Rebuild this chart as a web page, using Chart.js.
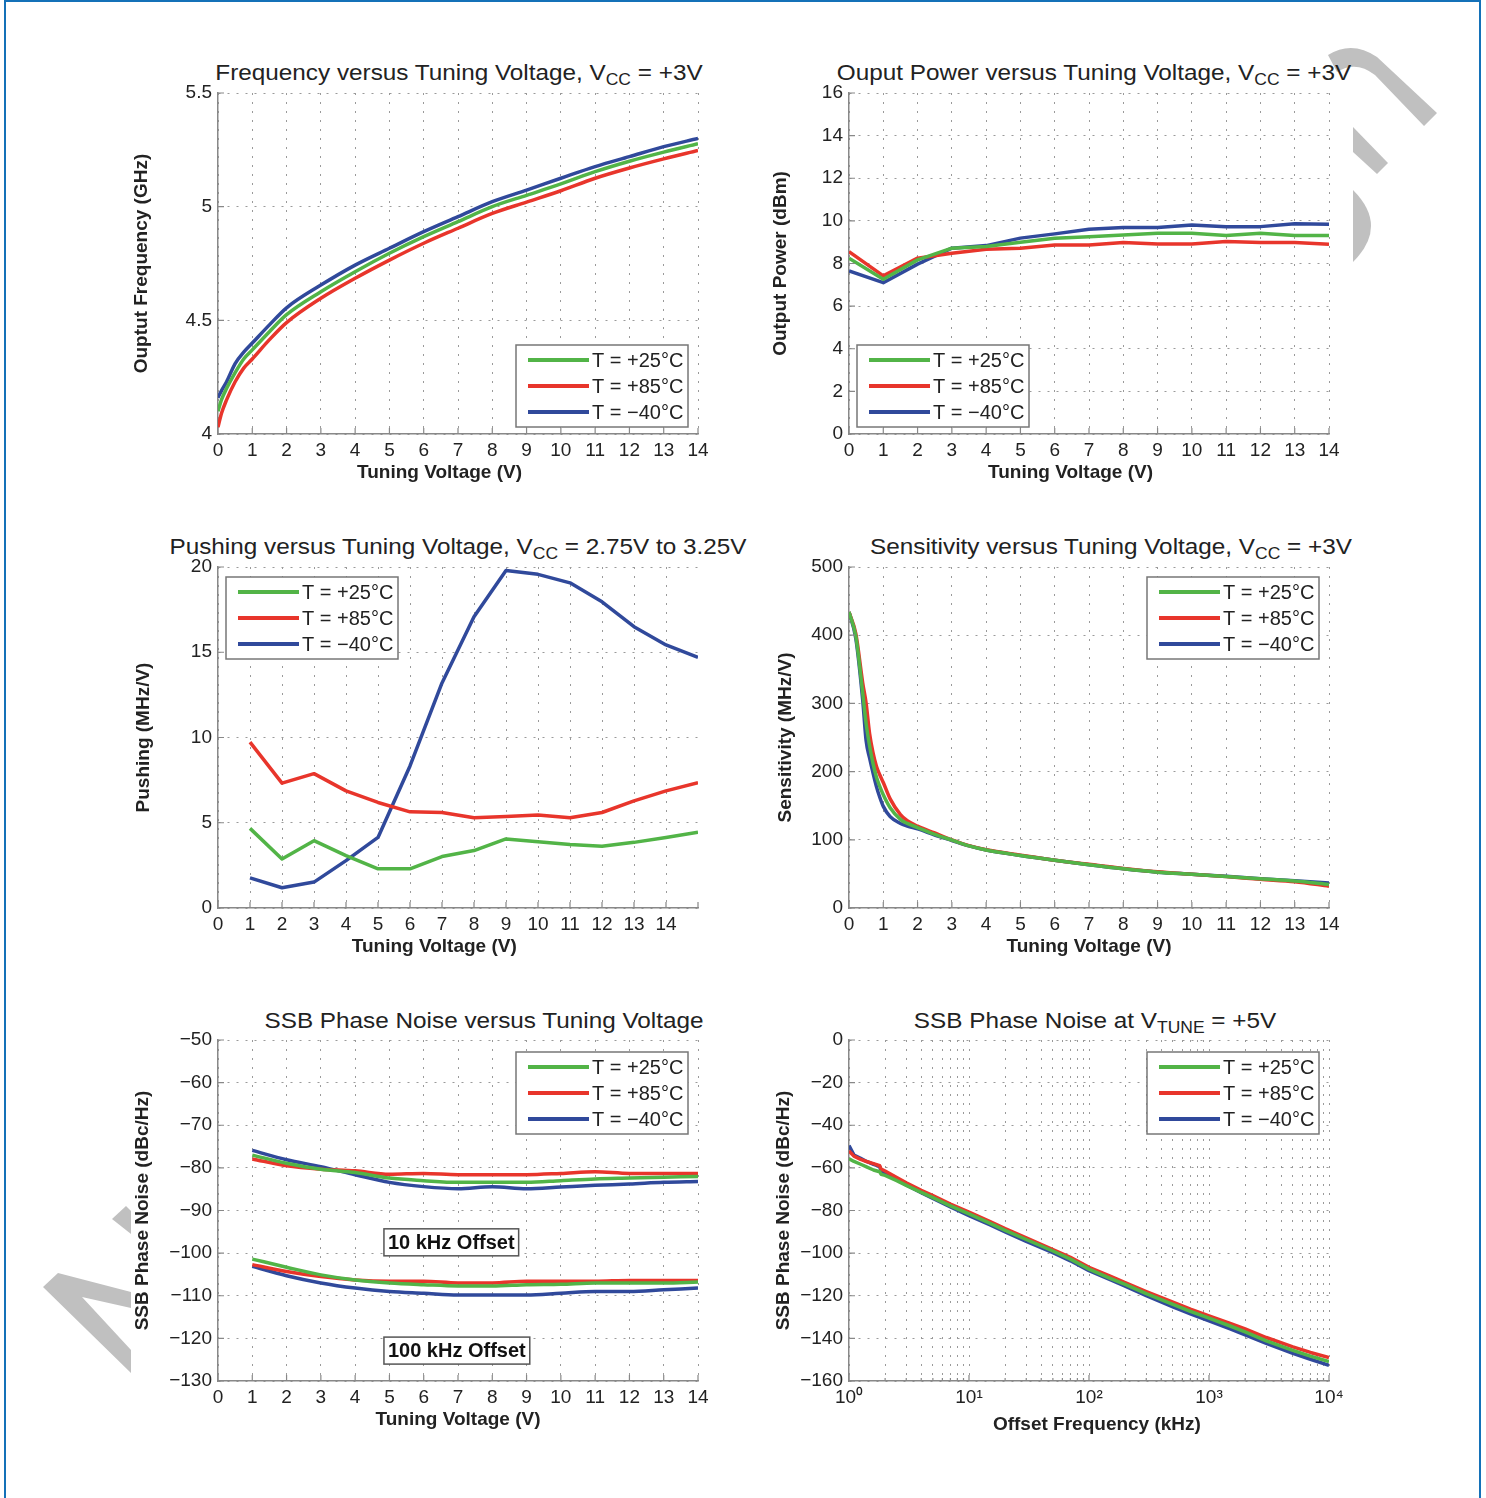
<!DOCTYPE html>
<html>
<head>
<meta charset="utf-8">
<script src="https://cdn.jsdelivr.net/npm/chart.js@4.4.0/dist/chart.umd.min.js"></script>
<style>
  body { margin: 0; background: #fff; width: 1486px; height: 1498px; position: relative; overflow: hidden;
         font-family: "Liberation Sans", Arial, sans-serif; }
  .frame { position: absolute; left: 4px; top: 0; width: 1473px; height: 1520px;
           border: 2.5px solid #1471b8; border-bottom: none; }
  .box { position: absolute; width: 614px; height: 427px; }
  .ttl { position: absolute; width: 800px; text-align: center; font-size: 22.5px; line-height: 1;
         color: #222; transform: scaleX(1.08); white-space: nowrap; }
  .ttl .s { font-size: 0.72em; position: relative; top: 0.3em; }
  svg.wm { position: absolute; left: 0; top: 0; }
</style>
</head>
<body>
<div class="frame"></div>
<svg class="wm" width="1486" height="1498">
  <g fill="#c0c0c0">
    <path d="M1328,55 Q1352,40 1377,57 L1437,113 L1424,126 L1375,75 Q1356,60 1337,72 Z"/>
    <polygon points="1353,127 1388,163 1377,174 1353,152"/>
    <path d="M1353,190 Q1389,226 1353,262 Z"/>
    <polygon points="112,1219 126,1206 131,1211 131,1234"/>
    <polygon points="58,1273 131,1292 131,1308 82,1297 131,1350 131,1373 43,1287"/>
  </g>
</svg>

<div class="ttl" style="left:59px;top:62px">Frequency versus Tuning Voltage, V<span class="s">CC</span> = +3V</div>
<div class="ttl" style="left:694px;top:62px">Ouput Power versus Tuning Voltage, V<span class="s">CC</span> = +3V</div>
<div class="ttl" style="left:58px;top:536px">Pushing versus Tuning Voltage, V<span class="s">CC</span> = 2.75V to 3.25V</div>
<div class="ttl" style="left:711px;top:536px">Sensitivity versus Tuning Voltage, V<span class="s">CC</span> = +3V</div>
<div class="ttl" style="left:84px;top:1010px">SSB Phase Noise versus Tuning Voltage</div>
<div class="ttl" style="left:695px;top:1010px">SSB Phase Noise at V<span class="s">TUNE</span> = +5V</div>

<canvas id="c1" class="box" width="614" height="427" style="left:108px;top:73px"></canvas>
<canvas id="c2" class="box" width="614" height="427" style="left:739px;top:73px"></canvas>
<canvas id="c3" class="box" width="614" height="427" style="left:108px;top:547px"></canvas>
<canvas id="c4" class="box" width="614" height="427" style="left:739px;top:547px"></canvas>
<canvas id="c5" class="box" width="614" height="427" style="left:108px;top:1020px"></canvas>
<canvas id="c6" class="box" width="614" height="427" style="left:739px;top:1020px"></canvas>

<script>
/* VCO characteristic plots */

const seriesLabels = ["T = +25°C", "T = +85°C", "T = −40°C"];

// frequency vs tuning voltage (GHz)
const fVolt = [0, 0.1, 0.25, 0.5, 0.75, 1, 1.5, 2, 3, 4, 5, 6, 7, 8, 9, 10, 11, 12, 13, 14];
const fT25 = [4.10, 4.15, 4.20, 4.27, 4.33, 4.37, 4.45, 4.525, 4.626, 4.714, 4.795, 4.868, 4.934, 5.0, 5.05, 5.10, 5.154, 5.2, 5.24, 5.277];
const fT85 = [4.03, 4.09, 4.15, 4.23, 4.29, 4.33, 4.415, 4.49, 4.597, 4.685, 4.765, 4.839, 4.905, 4.97, 5.02, 5.07, 5.125, 5.17, 5.21, 5.247];
const fTm40 = [4.16, 4.19, 4.23, 4.31, 4.36, 4.40, 4.48, 4.555, 4.655, 4.743, 4.817, 4.89, 4.956, 5.022, 5.073, 5.125, 5.176, 5.22, 5.264, 5.30];

// output power (dBm)
const pVolt = [0, 1, 2, 3, 4, 5, 6, 7, 8, 9, 10, 11, 12, 13, 14];
const pT25 = [8.25, 7.26, 8.17, 8.72, 8.8, 9.0, 9.19, 9.26, 9.34, 9.42, 9.42, 9.31, 9.42, 9.31, 9.31];
const pT85 = [8.56, 7.42, 8.25, 8.48, 8.67, 8.72, 8.87, 8.87, 8.98, 8.92, 8.92, 9.03, 8.98, 8.98, 8.9];
const pTm40 = [7.65, 7.1, 7.97, 8.72, 8.84, 9.19, 9.39, 9.61, 9.69, 9.69, 9.81, 9.73, 9.73, 9.86, 9.84];

// pushing (MHz/V)
const puVolt = [1, 2, 3, 4, 5, 6, 7, 8, 9, 10, 11, 12, 13, 14, 15];
const puT25 = [4.67, 2.88, 3.95, 3.07, 2.3, 2.3, 3.02, 3.37, 4.05, 3.89, 3.72, 3.62, 3.85, 4.14, 4.44];
const puT85 = [9.73, 7.32, 7.88, 6.87, 6.19, 5.64, 5.6, 5.29, 5.37, 5.45, 5.29, 5.6, 6.28, 6.87, 7.35];
const puTm40 = [1.77, 1.19, 1.52, 2.78, 4.14, 8.33, 13.2, 17.08, 19.8, 19.57, 19.07, 17.96, 16.5, 15.43, 14.7];

// sensitivity (MHz/V)
const sVolt = [0, 0.2, 0.4, 0.5, 0.6, 0.7, 0.8, 0.9, 1.0, 1.2, 1.5, 1.7, 2, 2.5, 3, 3.5, 4, 5, 6, 7, 8, 9, 10, 11, 12, 13, 14];
const sT25 = [434, 398, 315, 270, 238, 212, 192, 178, 166, 147, 130, 124, 118, 108, 99.5, 91, 85, 77, 70, 63.5, 57.5, 52.5, 49.5, 46.3, 42.8, 39.5, 34.5];
const sT85 = [434, 402, 330, 300, 256, 228, 208, 195, 184, 160, 137, 128, 120, 110, 100, 91.5, 85.5, 77.5, 70, 64, 58, 53, 49.5, 46, 42, 38.5, 32];
const sTm40 = [434, 395, 305, 245, 220, 198, 178, 162, 149, 134, 124, 120, 116, 107, 99, 91, 85, 77, 70, 63.5, 57.5, 52.5, 49.5, 46.5, 43, 40, 36.5];

// SSB phase noise vs tuning voltage (dBc/Hz)
const nVolt = [1, 2, 3, 4, 5, 6, 7, 8, 9, 10, 11, 12, 13, 14];
const n10T25 = [-77, -78.9, -80.3, -81.1, -82.4, -83, -83.4, -83.4, -83.4, -83, -82.6, -82.4, -82.2, -82];
const n10T85 = [-77.9, -79.5, -80.3, -80.7, -81.5, -81.3, -81.6, -81.6, -81.6, -81.3, -80.9, -81.3, -81.3, -81.3];
const n10Tm40 = [-75.9, -78.1, -79.7, -81.6, -83.4, -84.4, -84.9, -84.4, -84.9, -84.5, -84.1, -83.8, -83.4, -83.2];
const n100T25 = [-101.4, -103.3, -105.1, -106.3, -107, -107.4, -107.7, -107.7, -107.4, -107.3, -107, -107, -107, -106.8];
const n100T85 = [-102.7, -104.3, -105.5, -106.3, -106.6, -106.6, -107, -107, -106.6, -106.6, -106.6, -106.4, -106.4, -106.4];
const n100Tm40 = [-103.1, -105.3, -107, -108.2, -109, -109.4, -109.8, -109.8, -109.8, -109.4, -109, -109, -108.6, -108.2];

// SSB phase noise at Vtune = +5V vs offset (kHz)
const offKHz = [1, 1.1, 1.25, 1.4, 1.6, 1.8, 1.85, 2, 2.5, 3, 4, 5, 7, 10, 15, 20, 30, 50, 70, 100, 150, 200, 300, 500, 700, 1000, 1500, 2000, 3000, 5000, 7000, 10000];
const pnT25 = [-55.7, -57, -58.3, -59.5, -61, -61.8, -63, -63.5, -66, -68.2, -71.5, -74, -77.8, -81.6, -86, -89.3, -93.6, -99, -102.8, -107.5, -111.8, -114.7, -119, -124, -127.3, -130.5, -134.2, -137, -141.2, -145.6, -148.3, -150.9];
const pnT85 = [-52, -54.5, -56, -57, -58, -59, -60.5, -61.5, -64.5, -67, -70.5, -73, -77, -80.8, -85.2, -88.5, -92.8, -98.3, -102, -106.7, -110.8, -113.8, -118, -123, -126.3, -129.4, -133, -135.6, -139.6, -144, -146.6, -149];
const pnTm40 = [-49.5, -54, -55.5, -57, -58.3, -59.3, -61.5, -62.8, -65.5, -68, -71.6, -74.3, -78.3, -82.4, -86.8, -90, -94.5, -99.8, -103.6, -108.2, -112.5, -115.5, -120, -125.2, -128.5, -131.8, -135.5, -138.3, -142.3, -147, -149.8, -152.6];
const decadeLabels = ["10⁰", "10¹", "10²", "10³", "10⁴"];

const FONT = '"Liberation Sans", Arial, sans-serif';
const GREEN = "#52b447", RED = "#e8352b", BLUE = "#30499b";
const GRID = "#9a9a9a", AXIS = "#888";
const colors = [GREEN, RED, BLUE];

Chart.defaults.font.family = FONT;
Chart.defaults.font.size = 19;
Chart.defaults.color = "#222";

const pts = (xs, ys) => xs.map((x, i) => ({ x: x, y: ys[i] }));
const minus = (v) => (v < 0 ? "−" + Math.abs(v) : String(v));
const isPow10 = (v) => Math.abs(Math.log10(v) - Math.round(Math.log10(v))) < 1e-9;

// MATLAB style boxed legend inside the axes
const boxLegend = {
  id: "boxLegend",
  afterDatasetsDraw(chart, args, opts) {
    if (!opts.corner) return;
    const { ctx, chartArea: a } = chart;
    const w = 172, h = 82;
    const x = opts.corner[1] === "l" ? a.left + 8 : a.right - 10 - w;
    const y = opts.corner[0] === "t" ? a.top + (opts.top || 10) : a.bottom - 7 - h;
    ctx.save();
    ctx.fillStyle = "#fff";
    ctx.fillRect(x, y, w, h);
    ctx.strokeStyle = "#777";
    ctx.lineWidth = 1.5;
    ctx.strokeRect(x, y, w, h);
    ctx.font = "20px " + FONT;
    ctx.textBaseline = "middle";
    seriesLabels.forEach((t, i) => {
      const ry = y + 15 + i * 26;
      ctx.strokeStyle = colors[i];
      ctx.lineWidth = 4;
      ctx.beginPath();
      ctx.moveTo(x + 12, ry);
      ctx.lineTo(x + 73, ry);
      ctx.stroke();
      ctx.fillStyle = "#222";
      ctx.fillText(t, x + 76, ry + 1);
    });
    ctx.restore();
  },
};

// ticks pointing into the plot
const innerTicks = {
  id: "innerTicks",
  afterDraw(chart) {
    const { ctx, chartArea: a, scales } = chart;
    ctx.save();
    ctx.strokeStyle = AXIS;
    ctx.lineWidth = 1.2;
    ctx.beginPath();
    scales.x.ticks.forEach((t) => {
      const px = scales.x.getPixelForValue(t.value);
      const len = scales.x.type === "logarithmic" && !isPow10(t.value) ? 3 : 6;
      ctx.moveTo(px, a.bottom);
      ctx.lineTo(px, a.bottom - len);
    });
    scales.y.ticks.forEach((t) => {
      const py = scales.y.getPixelForValue(t.value);
      ctx.moveTo(a.left, py);
      ctx.lineTo(a.left + 6, py);
    });
    ctx.stroke();
    ctx.restore();
  },
};

// boxed text notes
const notes = {
  id: "notes",
  afterDatasetsDraw(chart, args, opts) {
    if (!opts.items) return;
    const { ctx, scales: { x, y } } = chart;
    opts.items.forEach((n) => {
      ctx.save();
      ctx.font = "bold 20px " + FONT;
      const w = ctx.measureText(n.text).width + 8;
      const px = x.getPixelForValue(n.x), py = y.getPixelForValue(n.y);
      ctx.fillStyle = "#fff";
      ctx.fillRect(px, py, w, 27);
      ctx.strokeStyle = "#555";
      ctx.lineWidth = 1.5;
      ctx.strokeRect(px, py, w, 27);
      ctx.fillStyle = "#111";
      ctx.textBaseline = "middle";
      ctx.fillText(n.text, px + 4, py + 14.5);
      ctx.restore();
    });
  },
};

function axisX(o) {
  return {
    type: o.type || "linear",
    min: o.min,
    max: o.max,
    afterFit: (s) => { s.height = 66; },
    afterBuildTicks: o.tickValues ? (s) => { s.ticks = o.tickValues.map((v) => ({ value: v })); } : undefined,
    border: { color: AXIS, width: 1.5, dash: [2, 7] },
    grid: { color: o.gridColor || GRID, lineWidth: 1, drawTicks: false },
    ticks: { stepSize: o.step, padding: 5, autoSkip: false, maxRotation: 0, callback: o.cb || ((v) => minus(v)) },
    title: { display: true, text: o.title, font: { size: 19, weight: "bold" }, padding: { top: 0, bottom: o.tpad } },
  };
}

function axisY(o) {
  return {
    min: o.min,
    max: o.max,
    afterFit: (s) => { s.width = 110; },
    border: { color: AXIS, width: 1.5, dash: [2, 7] },
    grid: { color: GRID, lineWidth: 1, drawTicks: false },
    ticks: { stepSize: o.step, padding: 6, autoSkip: false, callback: (v) => minus(v) },
    title: { display: true, text: o.title, font: { size: 19, weight: "bold" }, padding: { top: o.tpad, bottom: 0 } },
  };
}

function makeChart(id, datasets, x, y, plugins, smooth) {
  new Chart(document.getElementById(id), {
    type: "line",
    data: {
      datasets: datasets.map((d, i) => ({
        data: d,
        borderColor: colors[i % 3],
        backgroundColor: colors[i % 3],
        borderWidth: 3.5,
        borderJoinStyle: "round",
        pointRadius: 0,
        cubicInterpolationMode: smooth ? "monotone" : "default",
        tension: 0,
      })),
    },
    options: {
      responsive: false,
      animation: false,
      layout: { padding: { top: 20, right: 24, left: 0, bottom: 0 } },
      plugins: Object.assign({ legend: { display: false }, tooltip: { enabled: false } }, plugins),
      scales: { x: x, y: y },
    },
    plugins: [boxLegend, innerTicks, notes],
  });
}

const nb = (n) => "\u00a0".repeat(n);
const logTicks = [];
for (let e = 0; e < 4; e++) for (let m = 1; m < 10; m++) logTicks.push(m * Math.pow(10, e));
logTicks.push(10000);

makeChart("c1",
  [pts(fVolt, fT25), pts(fVolt, fT85), pts(fVolt, fTm40)],
  axisX({ min: 0, max: 14, step: 1, title: "Tuning Voltage (V)" + nb(7), tpad: 15.6 }),
  axisY({ min: 4, max: 5.5, step: 0.5, title: "Ouptut Frequency (GHz)", tpad: 22.6 }),
  { boxLegend: { corner: "br" } }, true);

makeChart("c2",
  [pts(pVolt, pT25), pts(pVolt, pT85), pts(pVolt, pTm40)],
  axisX({ min: 0, max: 14, step: 1, title: "Tuning Voltage (V)" + nb(7), tpad: 15.6 }),
  axisY({ min: 0, max: 16, step: 2, title: "Output Power (dBm)", tpad: 30.6 }),
  { boxLegend: { corner: "bl" } }, false);

makeChart("c3",
  [pts(puVolt, puT25), pts(puVolt, puT85), pts(puVolt, puTm40)],
  axisX({ min: 0, max: 15, step: 1, title: "Tuning Voltage (V)" + nb(9), tpad: 15.6,
    cb: (v) => (v === 15 ? "" : minus(v)),
    gridColor: (c) => (c.tick && c.tick.value === 15 ? "rgba(0,0,0,0)" : GRID) }),
  axisY({ min: 0, max: 20, step: 5, title: "Pushing (MHz/V)", tpad: 24.6 }),
  { boxLegend: { corner: "tl" } }, false);

makeChart("c4",
  [pts(sVolt, sT25), pts(sVolt, sT85), pts(sVolt, sTm40)],
  axisX({ min: 0, max: 14, step: 1, title: "Tuning Voltage (V)", tpad: 15.6 }),
  axisY({ min: 0, max: 500, step: 100, title: "Sensitivity (MHz/V)", tpad: 35.6 }),
  { boxLegend: { corner: "tr" } }, true);

makeChart("c5",
  [pts(nVolt, n10T25), pts(nVolt, n10T85), pts(nVolt, n10Tm40),
   pts(nVolt, n100T25), pts(nVolt, n100T85), pts(nVolt, n100Tm40)],
  axisX({ min: 0, max: 14, step: 1, title: "Tuning Voltage (V)", tpad: 15.6 }),
  axisY({ min: -130, max: -50, step: 10, title: "SSB Phase Noise (dBc/Hz)", tpad: 23.6 }),
  { boxLegend: { corner: "tr", top: 12 },
    notes: { items: [{ text: "10 kHz Offset", x: 4.84, y: -94.3 }, { text: "100 kHz Offset", x: 4.84, y: -119.7 }] } }, true);

makeChart("c6",
  [pts(offKHz, pnT25), pts(offKHz, pnT85), pts(offKHz, pnTm40)],
  axisX({ type: "logarithmic", min: 1, max: 10000, title: nb(3) + "Offset Frequency (kHz)", tpad: 10.6,
    tickValues: logTicks,
    cb: (v) => (isPow10(v) ? decadeLabels[Math.round(Math.log10(v))] : "") }),
  axisY({ min: -160, max: 0, step: 20, title: "SSB Phase Noise (dBc/Hz)", tpad: 33.6 }),
  { boxLegend: { corner: "tr", top: 12 } }, false);
</script>
</body>
</html>
